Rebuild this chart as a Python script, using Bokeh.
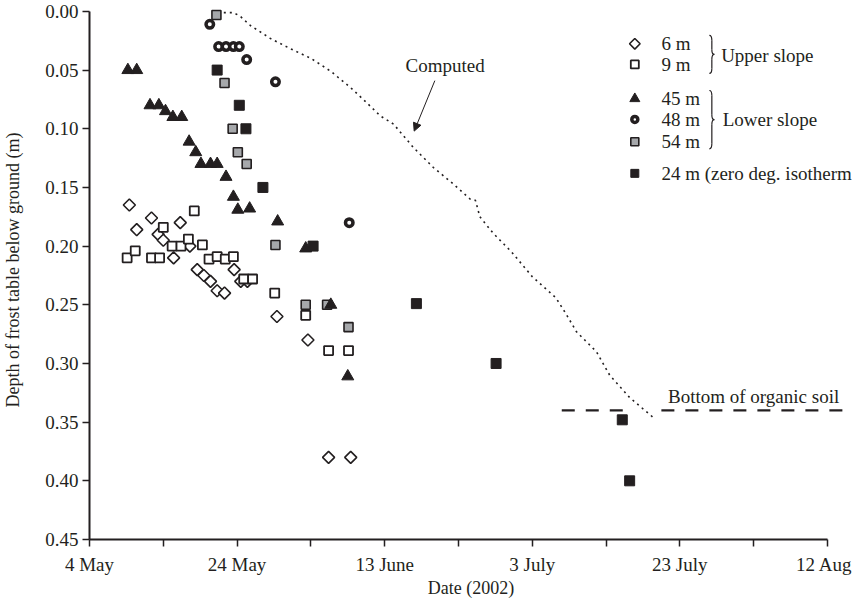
import math
from bokeh.plotting import figure
from bokeh.models import Range1d, FixedTicker, NumeralTickFormatter, Label, Arrow, NormalHead
from bokeh.embed import file_html
from bokeh.resources import INLINE

# ---------------- data (x = days after 4 May 2002, y = depth in m) ----------------
tick_days = [0, 20, 40, 60, 80, 100]
tick_labels = ["4 May", "24 May", "13 June", "3 July", "23 July", "12 Aug"]
minor_days = [10, 30, 50, 70, 90]
depth_ticks = [0.00, 0.05, 0.10, 0.15, 0.20, 0.25, 0.30, 0.35, 0.40, 0.45]

day_6m = [5.4, 6.4, 8.4, 9.3, 10.0, 11.4, 12.3, 13.6, 14.6, 15.5, 16.4, 17.3, 18.3,
          19.6, 20.5, 21.4, 25.4, 29.6, 32.4, 35.4]
depth_6m = [0.165, 0.186, 0.176, 0.190, 0.195, 0.210, 0.180, 0.200, 0.220, 0.225, 0.230,
            0.238, 0.240, 0.220, 0.230, 0.230, 0.260, 0.280, 0.380, 0.380]

day_9m = [5.1, 6.2, 8.4, 9.5, 10.0, 11.2, 12.4, 13.4, 14.2, 15.3, 16.2, 17.3, 18.4,
          19.5, 20.9, 22.1, 25.1, 29.3, 32.4, 35.1]
depth_9m = [0.210, 0.204, 0.210, 0.210, 0.184, 0.200, 0.200, 0.194, 0.170, 0.199, 0.211,
            0.209, 0.211, 0.209, 0.228, 0.228, 0.240, 0.259, 0.289, 0.289]

day_45m = [5.2, 6.4, 8.2, 9.4, 10.3, 11.3, 12.5, 13.5, 14.4, 15.1, 16.4, 17.3, 18.5,
           19.5, 20.1, 21.7, 25.5, 29.3, 32.7, 35.0]
depth_45m = [0.050, 0.050, 0.080, 0.080, 0.085, 0.090, 0.090, 0.111, 0.120, 0.130, 0.130,
             0.130, 0.141, 0.158, 0.169, 0.168, 0.179, 0.202, 0.250, 0.311]

day_48m = [16.3, 17.5, 18.5, 19.5, 20.3, 21.3, 25.2, 35.2]
depth_48m = [0.011, 0.030, 0.030, 0.030, 0.030, 0.041, 0.060, 0.180]

day_54m = [17.2, 18.3, 19.4, 20.1, 21.3, 25.2, 29.3, 32.2, 35.1]
depth_54m = [0.003, 0.061, 0.100, 0.120, 0.130, 0.199, 0.250, 0.250, 0.269]

day_24m = [17.3, 20.3, 21.2, 23.5, 30.3, 44.3, 55.1, 72.2, 73.2]
depth_24m = [0.050, 0.080, 0.100, 0.150, 0.200, 0.249, 0.300, 0.348, 0.400]

day_computed = [18.2, 19.5, 20.4, 21.8, 24.5, 27.3, 30.0, 32.7, 35.4, 37.6, 39.4, 41.2,
                43.9, 46.6, 49.3, 51.6, 52.3, 52.9, 54.7, 57.2, 60.0, 63.2, 64.6, 66.0,
                68.7, 70.5, 73.2, 76.4]
depth_computed = [0.001, 0.001, 0.004, 0.012, 0.023, 0.032, 0.040, 0.051, 0.065, 0.078,
                  0.089, 0.096, 0.116, 0.133, 0.147, 0.160, 0.161, 0.175, 0.189, 0.205,
                  0.226, 0.244, 0.258, 0.273, 0.290, 0.310, 0.329, 0.346]

organic_soil_depth = 0.34
organic_soil_days = [[64.0, 72.3], [77.5, 102.3]]

legend_labels = ["6 m", "9 m", "45 m", "48 m", "54 m", "24 m (zero deg. isotherm"]
group_labels = ["Upper slope", "Lower slope"]

# ---------------- style ----------------
INK = "#231f20"
GRAY = "#a6a8ab"
FONT = "Liberation Serif"
W, H = 852, 600
BL, BB = 87, 57
X0, X1 = 0.0, 103.4
Y_BOT, Y_TOP = 0.45, -0.0093
PX_DAY = (W - BL) / (X1 - X0)
PX_UNIT = (H - BB) / (Y_BOT - Y_TOP)

p = figure(width=W, height=H, output_backend="svg", toolbar_location=None,
           x_range=Range1d(X0, X1), y_range=Range1d(Y_BOT, Y_TOP),
           min_border_left=BL, min_border_right=0, min_border_top=0, min_border_bottom=BB,
           background_fill_color="white", border_fill_color="white")
p.outline_line_color = None
p.xgrid.visible = False
p.ygrid.visible = False

for ax in (p.xaxis[0], p.yaxis[0]):
    ax.axis_line_color = INK
    ax.axis_line_width = 2
    ax.major_tick_line_color = INK
    ax.major_tick_line_width = 1.5
    ax.minor_tick_line_color = INK
    ax.minor_tick_line_width = 1.5
    ax.major_tick_out = 7
    ax.major_tick_in = 0
    ax.minor_tick_out = 7
    ax.minor_tick_in = 0
    ax.major_label_text_font = FONT
    ax.major_label_text_font_size = "19px"
    ax.major_label_text_color = INK
    ax.axis_label_text_font = FONT
    ax.axis_label_text_font_size = "18px"
    ax.axis_label_text_font_style = "normal"
    ax.axis_label_text_color = INK

p.xaxis.ticker = FixedTicker(ticks=tick_days, minor_ticks=minor_days)
p.xaxis.major_label_overrides = {d: l for d, l in zip(tick_days, tick_labels)}
p.xaxis.bounds = (tick_days[0], tick_days[-1])
p.xaxis.major_label_standoff = 7
p.xaxis.axis_label = "Date (2002)"
p.xaxis.axis_label_standoff = 0

p.yaxis.ticker = FixedTicker(ticks=depth_ticks, minor_ticks=[])
p.yaxis.formatter = NumeralTickFormatter(format="0.00")
p.yaxis.bounds = (depth_ticks[0], depth_ticks[-1])
p.yaxis.major_label_standoff = 4
p.yaxis.axis_label = "Depth of frost table below ground (m)"
p.yaxis.axis_label_standoff = 19

# computed curve
p.line(day_computed, depth_computed, line_color=INK, line_width=1.6, line_dash="2 4")

# bottom of organic soil
p.multi_line(xs=organic_soil_days, ys=[[organic_soil_depth] * 2 for _ in organic_soil_days],
             line_color=INK, line_width=2.2, line_dash="13 11")

# data series
def diamond(x, y, size=8.5):
    p.scatter(x, y, marker="square", angle=math.pi / 4, size=size, fill_color="white",
              line_color=INK, line_width=1.6)

def open_square(x, y, size=9):
    p.scatter(x, y, marker="square", size=size, fill_color="white", line_color=INK, line_width=1.8)

def triangle(x, y, size=12):
    p.scatter(x, y, marker="triangle", size=size, fill_color=INK, line_color=INK, line_width=1)

def ring(x, y, size=7.5):
    p.scatter(x, y, marker="circle", size=size, fill_color="white", line_color=INK, line_width=3.5)

def gray_square(x, y, size=9):
    p.scatter(x, y, marker="square", size=size, fill_color=GRAY, line_color=INK, line_width=1.6)

def black_square(x, y, size=10):
    p.scatter(x, y, marker="square", size=size, fill_color=INK, line_color=INK, line_width=1)

diamond(day_6m, depth_6m)
open_square(day_9m, depth_9m)
ring(day_48m, depth_48m)
gray_square(day_54m, depth_54m)
black_square(day_24m, depth_24m)
triangle(day_45m, depth_45m)

# annotation "Computed"
p.add_layout(Label(x=48.2, y=0.0463, text="Computed", text_font=FONT, text_font_size="19px",
                   text_color=INK, text_align="center", text_baseline="middle"))
p.add_layout(Arrow(x_start=46.8, y_start=0.059, x_end=44.0, y_end=0.102,
                   line_color=INK, line_width=1,
                   end=NormalHead(size=8, fill_color=INK, line_color=INK)))

p.add_layout(Label(x=78.4, y=0.328, text="Bottom of organic soil", text_font=FONT,
                   text_font_size="19px", text_color=INK, text_align="left",
                   text_baseline="middle"))

# ---------------- legend ----------------
LX = 73.9
LTX = 77.5
rows = [0.0276, 0.0452, 0.0744, 0.092, 0.111, 0.138]
diamond([LX], [rows[0]], size=7.5)
open_square([LX], [rows[1]], size=8)
triangle([LX], [rows[2]], size=10)
ring([LX], [rows[3]], size=6)
gray_square([LX], [rows[4]], size=8)
black_square([LX], [rows[5]], size=8)
for r, t in zip(rows, legend_labels):
    p.add_layout(Label(x=LTX, y=r, text=t, text_font=FONT, text_font_size="19px",
                       text_color=INK, text_align="left", text_baseline="middle"))

def brace(xl, yt, yb, w_px=5.0):
    w = w_px / PX_DAY
    h = w_px / PX_UNIT
    xm, xr = xl + w / 2, xl + w
    ym = (yt + yb) / 2
    p.quadratic(x0=[xl, xm, xr, xm], y0=[yt, ym - h, ym, yb - h],
                x1=[xm, xr, xm, xl], y1=[yt + h, ym, ym + h, yb],
                cx=[xm, xm, xm, xm], cy=[yt, ym, ym, yb], line_color=INK, line_width=1.2)
    p.segment(x0=[xm, xm], y0=[yt + h, ym + h], x1=[xm, xm], y1=[ym - h, yb - h],
              line_color=INK, line_width=1.2)

brace(84.0, 0.0204, 0.0528)
brace(84.0, 0.0674, 0.1171)
p.add_layout(Label(x=85.6, y=0.0373, text=group_labels[0], text_font=FONT, text_font_size="19px",
                   text_color=INK, text_align="left", text_baseline="middle"))
p.add_layout(Label(x=85.8, y=0.0921, text=group_labels[1], text_font=FONT, text_font_size="19px",
                   text_color=INK, text_align="left", text_baseline="middle"))

open("out.html", "w").write(file_html(p, INLINE))
